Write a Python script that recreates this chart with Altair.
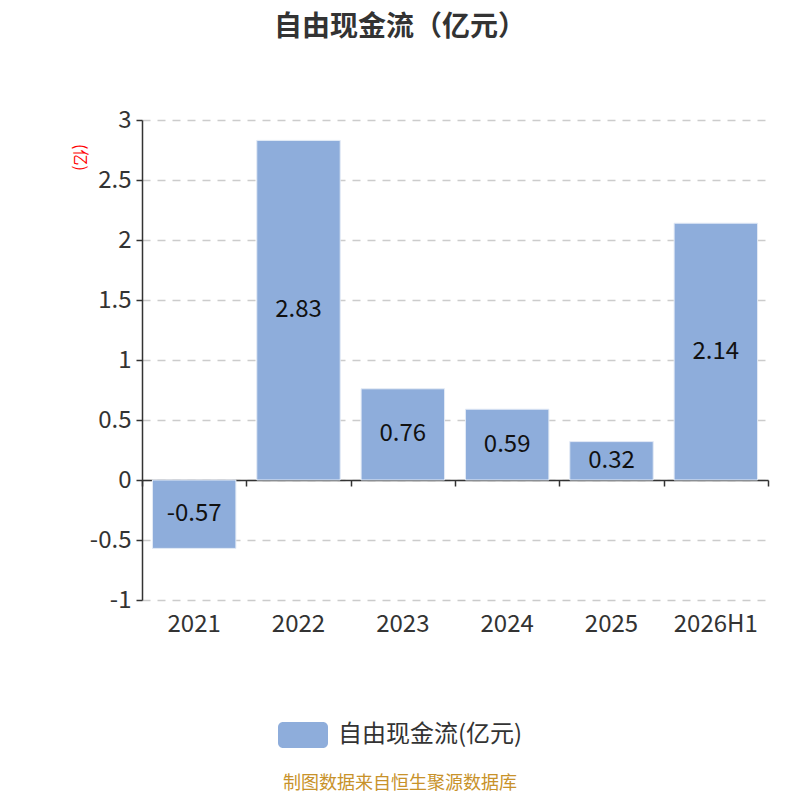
import altair as alt
import pandas as pd

categories = ["2021", "2022", "2023", "2024", "2025", "2026H1"]
values = [-0.57, 2.83, 0.76, 0.59, 0.32, 2.14]
series_name = "自由现金流(亿元)"
title_text = "自由现金流（亿元）"
source_text = "制图数据来自恒生聚源数据库"
unit_text = "(亿)"

df = pd.DataFrame({"cat": categories, "val": values, "series": [series_name] * len(values)})
df["half"] = df["val"] / 2
df["label"] = [f"{v:.2f}" for v in values]

FONT = "Noto Sans CJK SC"
BAR = "#8EADDB"

xscale = alt.Scale(domain=categories, paddingInner=0, paddingOuter=0)
yscale = alt.Scale(domain=[-1, 3], nice=False, zero=False)

rounded = ("M-0.8,-0.52 H0.8 A0.2,0.2 0 0 1 1,-0.32 V0.32 A0.2,0.2 0 0 1 0.8,0.52 "
           "H-0.8 A0.2,0.2 0 0 1 -1,0.32 V-0.32 A0.2,0.2 0 0 1 -0.8,-0.52 Z")

bars = alt.Chart(df).mark_bar(stroke="#e4ebf6", strokeWidth=1,
                              width=alt.RelativeBandSize(0.8)).encode(
    x=alt.X("cat:N", scale=xscale, sort=categories, title=None,
            axis=alt.Axis(orient="bottom", domain=False, ticks=False, labelAngle=0, labelFontSize=24,
                          labelColor="#333333", labelPadding=12, labelFont=FONT, grid=False)),
    y=alt.Y("val:Q", scale=yscale,
            axis=alt.Axis(values=[-1, -0.5, 0, 0.5, 1, 1.5, 2, 2.5, 3],
                          labelExpr="toString(datum.value)",
                          labelFontSize=24, labelColor="#333333", labelFont=FONT, labelPadding=5,
                          tickSize=6, tickColor="#333333", tickWidth=1.5,
                          domainColor="#333333", domainWidth=1.5,
                          grid=True, gridColor="#cccccc", gridDash=[8, 7], gridWidth=1.5,
                          title=unit_text, titleColor="#ff0000", titleFontSize=16,
                          titleFont=FONT, titleFontWeight="normal", titleAngle=90,
                          titleX=-63, titleY=37, titleAlign="center", titleBaseline="middle")),
    color=alt.Color("series:N", scale=alt.Scale(range=[BAR]),
                    legend=alt.Legend(title=None, orient="none", legendX=136, legendY=590,
                                      symbolType=rounded, symbolSize=2500, symbolStrokeWidth=0,
                                      labelFontSize=24, labelColor="#333333", labelFont=FONT,
                                      labelOffset=10, labelLimit=0, padding=0)),
)

labels = alt.Chart(df).mark_text(fontSize=24, color="#111111", font=FONT, baseline="middle").encode(
    x=alt.X("cat:N", scale=xscale, sort=categories, title=None,
            axis=alt.Axis(orient="bottom", labels=False, domain=True, domainColor="#333333",
                          domainWidth=1.5, ticks=True, tickBand="extent", tickSize=6,
                          tickColor="#333333", tickWidth=1.5, offset=-120, grid=False)),
    y=alt.Y("half:Q", scale=yscale),
    text="label:N",
)

source = alt.Chart(pd.DataFrame({"t": [source_text]})).mark_text(
    fontSize=18, color="#C8922A", font=FONT, baseline="middle", align="center"
).encode(x=alt.value(258), y=alt.value(664), text="t:N")

chart = alt.layer(bars, labels, source).resolve_axis(x="independent").properties(
    width=626, height=480,
    autosize=alt.AutoSizeParams(type="none"),
    padding={"left": 134, "top": 112, "right": 24, "bottom": 192},
    title=alt.TitleParams(title_text, fontSize=28, font=FONT, fontWeight="bold",
                          color="#333333", anchor="middle", dx=-55, offset=66),
).configure_view(stroke=None)

chart.save("out.html", embed_options={"renderer": "svg", "actions": False})
